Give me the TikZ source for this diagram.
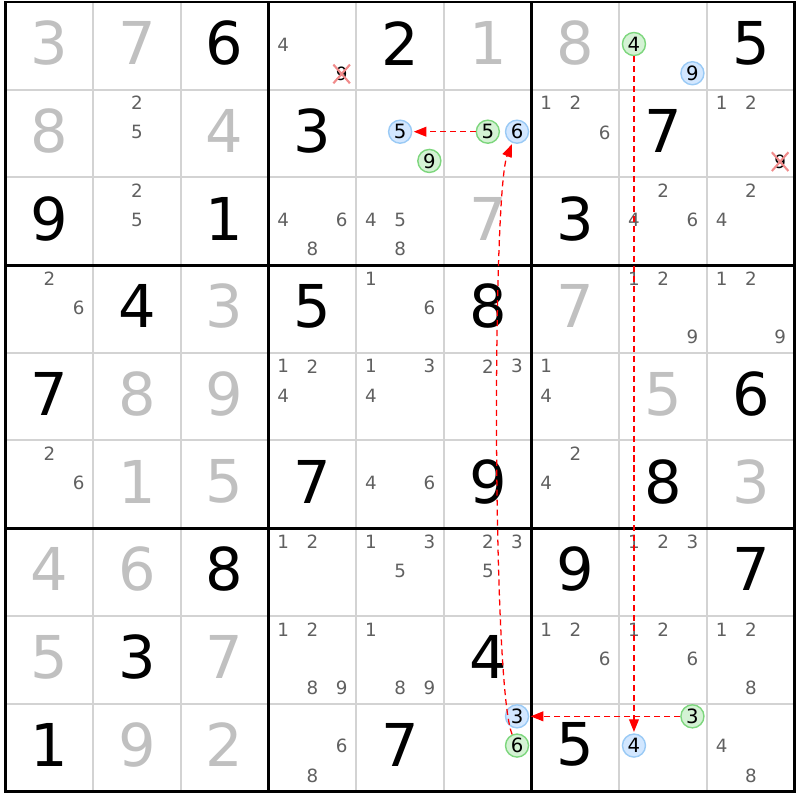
\documentclass[tikz,border=0pt]{standalone}
\usepackage{fontspec}
\setmainfont{DejaVu Sans}
\usetikzlibrary{arrows.meta,shapes.misc}
\definecolor{solvedgray}{HTML}{C0C0C0}
\definecolor{candgray}{HTML}{606060}
\definecolor{thingray}{HTML}{D3D3D3}
\definecolor{ongreen}{HTML}{D4F2D4}
\definecolor{ongreenline}{HTML}{7DD67D}
\definecolor{offblue}{HTML}{D2E7FF}
\definecolor{offblueline}{HTML}{9ACAF5}
\definecolor{crossred}{HTML}{F08A8A}
\tikzset{
  given/.style={font=\fontsize{42}{42}\selectfont, inner sep=0pt, yshift=1.8pt},
  solved/.style={given, text=solvedgray},
  cand/.style={font=\fontsize{13}{13}\selectfont, text=candgray, inner sep=0pt, yshift=0.8pt},
  struck/.style={cand, text=black, cross out, draw=crossred, line width=1.5pt, inner sep=1pt},
  onlink/.style={circle, draw=ongreenline, fill=ongreen, line width=1pt, minimum size=16.4pt, inner sep=0pt, font=\fontsize{14}{14}\selectfont, yshift=1.3pt},
  offlink/.style={onlink, draw=offblueline, fill=offblue},
  link/.style={red, line width=0.9pt, dash pattern=on 4.3pt off 2.8pt, -{Triangle[length=9pt,width=7pt]}, shorten >=1pt},
}
\begin{document}
\begin{tikzpicture}[x=0.7308cm, y=-0.7308cm]
    \useasboundingbox (-0.188,-0.068) rectangle (27.18,27.30);
    %% grid
    \foreach \i in {3,6,12,15,21,24} {
      \draw[thingray, line width=1.4pt] (\i,0) -- (\i,27);
      \draw[thingray, line width=1.4pt] (0,\i) -- (27,\i);
    }
    \draw[line width=2.1pt] (9,0) -- (9,27) (18,0) -- (18,27) (0,9) -- (27,9) (0,18) -- (27,18);
    \draw[line width=2.1pt] (0,0) rectangle (27,27);
    %% row 1
    \node[solved] (r0c0) at (1.5,1.5) {3}; \node[solved] (r0c1) at (4.5,1.5) {7}; \node[given] (r0c2) at (7.5,1.5) {6};
    \node[cand] (r0c3n4) at (9.5,1.5) {4}; \node[struck] (r0c3n9) at (11.5,2.5) {9};
    \node[given] (r0c4) at (13.5,1.5) {2}; \node[solved] (r0c5) at (16.5,1.5) {1};
    \node[solved] (r0c6) at (19.5,1.5) {8};
    \node[onlink] (r0c7n4) at (21.5,1.5) {4}; \node[offlink] (r0c7n9) at (23.5,2.5) {9};
    \node[given] (r0c8) at (25.5,1.5) {5};
    %% row 2
    \node[solved] (r1c0) at (1.5,4.5) {8};
    \node[cand] (r1c1n2) at (4.5,3.5) {2}; \node[cand] (r1c1n5) at (4.5,4.5) {5};
    \node[solved] (r1c2) at (7.5,4.5) {4}; \node[given] (r1c3) at (10.5,4.5) {3};
    \node[offlink] (r1c4n5) at (13.5,4.5) {5}; \node[onlink] (r1c4n9) at (14.5,5.5) {9};
    \node[onlink] (r1c5n5) at (16.5,4.5) {5}; \node[offlink] (r1c5n6) at (17.5,4.5) {6};
    \node[cand] (r1c6n1) at (18.5,3.5) {1}; \node[cand] (r1c6n2) at (19.5,3.5) {2}; \node[cand] (r1c6n6) at (20.5,4.5) {6};
    \node[given] (r1c7) at (22.5,4.5) {7};
    \node[cand] (r1c8n1) at (24.5,3.5) {1}; \node[cand] (r1c8n2) at (25.5,3.5) {2}; \node[struck] (r1c8n9) at (26.5,5.5) {9};
    %% row 3
    \node[given] (r2c0) at (1.5,7.5) {9};
    \node[cand] (r2c1n2) at (4.5,6.5) {2}; \node[cand] (r2c1n5) at (4.5,7.5) {5};
    \node[given] (r2c2) at (7.5,7.5) {1};
    \node[cand] (r2c3n4) at (9.5,7.5) {4}; \node[cand] (r2c3n6) at (11.5,7.5) {6}; \node[cand] (r2c3n8) at (10.5,8.5) {8};
    \node[cand] (r2c4n4) at (12.5,7.5) {4}; \node[cand] (r2c4n5) at (13.5,7.5) {5}; \node[cand] (r2c4n8) at (13.5,8.5) {8};
    \node[solved] (r2c5) at (16.5,7.5) {7}; \node[given] (r2c6) at (19.5,7.5) {3};
    \node[cand] (r2c7n2) at (22.5,6.5) {2}; \node[cand] (r2c7n4) at (21.5,7.5) {4}; \node[cand] (r2c7n6) at (23.5,7.5) {6};
    \node[cand] (r2c8n2) at (25.5,6.5) {2}; \node[cand] (r2c8n4) at (24.5,7.5) {4};
    %% row 4
    \node[cand] (r3c0n2) at (1.5,9.5) {2}; \node[cand] (r3c0n6) at (2.5,10.5) {6};
    \node[given] (r3c1) at (4.5,10.5) {4}; \node[solved] (r3c2) at (7.5,10.5) {3}; \node[given] (r3c3) at (10.5,10.5) {5};
    \node[cand] (r3c4n1) at (12.5,9.5) {1}; \node[cand] (r3c4n6) at (14.5,10.5) {6};
    \node[given] (r3c5) at (16.5,10.5) {8}; \node[solved] (r3c6) at (19.5,10.5) {7};
    \node[cand] (r3c7n1) at (21.5,9.5) {1}; \node[cand] (r3c7n2) at (22.5,9.5) {2}; \node[cand] (r3c7n9) at (23.5,11.5) {9};
    \node[cand] (r3c8n1) at (24.5,9.5) {1}; \node[cand] (r3c8n2) at (25.5,9.5) {2}; \node[cand] (r3c8n9) at (26.5,11.5) {9};
    %% row 5
    \node[given] (r4c0) at (1.5,13.5) {7}; \node[solved] (r4c1) at (4.5,13.5) {8}; \node[solved] (r4c2) at (7.5,13.5) {9};
    \node[cand] (r4c3n1) at (9.5,12.5) {1}; \node[cand] (r4c3n2) at (10.5,12.5) {2}; \node[cand] (r4c3n4) at (9.5,13.5) {4};
    \node[cand] (r4c4n1) at (12.5,12.5) {1}; \node[cand] (r4c4n3) at (14.5,12.5) {3}; \node[cand] (r4c4n4) at (12.5,13.5) {4};
    \node[cand] (r4c5n2) at (16.5,12.5) {2}; \node[cand] (r4c5n3) at (17.5,12.5) {3};
    \node[cand] (r4c6n1) at (18.5,12.5) {1}; \node[cand] (r4c6n4) at (18.5,13.5) {4};
    \node[solved] (r4c7) at (22.5,13.5) {5}; \node[given] (r4c8) at (25.5,13.5) {6};
    %% row 6
    \node[cand] (r5c0n2) at (1.5,15.5) {2}; \node[cand] (r5c0n6) at (2.5,16.5) {6};
    \node[solved] (r5c1) at (4.5,16.5) {1}; \node[solved] (r5c2) at (7.5,16.5) {5}; \node[given] (r5c3) at (10.5,16.5) {7};
    \node[cand] (r5c4n4) at (12.5,16.5) {4}; \node[cand] (r5c4n6) at (14.5,16.5) {6};
    \node[given] (r5c5) at (16.5,16.5) {9};
    \node[cand] (r5c6n2) at (19.5,15.5) {2}; \node[cand] (r5c6n4) at (18.5,16.5) {4};
    \node[given] (r5c7) at (22.5,16.5) {8}; \node[solved] (r5c8) at (25.5,16.5) {3};
    %% row 7
    \node[solved] (r6c0) at (1.5,19.5) {4}; \node[solved] (r6c1) at (4.5,19.5) {6}; \node[given] (r6c2) at (7.5,19.5) {8};
    \node[cand] (r6c3n1) at (9.5,18.5) {1}; \node[cand] (r6c3n2) at (10.5,18.5) {2};
    \node[cand] (r6c4n1) at (12.5,18.5) {1}; \node[cand] (r6c4n3) at (14.5,18.5) {3}; \node[cand] (r6c4n5) at (13.5,19.5) {5};
    \node[cand] (r6c5n2) at (16.5,18.5) {2}; \node[cand] (r6c5n3) at (17.5,18.5) {3}; \node[cand] (r6c5n5) at (16.5,19.5) {5};
    \node[given] (r6c6) at (19.5,19.5) {9};
    \node[cand] (r6c7n1) at (21.5,18.5) {1}; \node[cand] (r6c7n2) at (22.5,18.5) {2}; \node[cand] (r6c7n3) at (23.5,18.5) {3};
    \node[given] (r6c8) at (25.5,19.5) {7};
    %% row 8
    \node[solved] (r7c0) at (1.5,22.5) {5}; \node[given] (r7c1) at (4.5,22.5) {3}; \node[solved] (r7c2) at (7.5,22.5) {7};
    \node[cand] (r7c3n1) at (9.5,21.5) {1}; \node[cand] (r7c3n2) at (10.5,21.5) {2}; \node[cand] (r7c3n8) at (10.5,23.5) {8}; \node[cand] (r7c3n9) at (11.5,23.5) {9};
    \node[cand] (r7c4n1) at (12.5,21.5) {1}; \node[cand] (r7c4n8) at (13.5,23.5) {8}; \node[cand] (r7c4n9) at (14.5,23.5) {9};
    \node[given] (r7c5) at (16.5,22.5) {4};
    \node[cand] (r7c6n1) at (18.5,21.5) {1}; \node[cand] (r7c6n2) at (19.5,21.5) {2}; \node[cand] (r7c6n6) at (20.5,22.5) {6};
    \node[cand] (r7c7n1) at (21.5,21.5) {1}; \node[cand] (r7c7n2) at (22.5,21.5) {2}; \node[cand] (r7c7n6) at (23.5,22.5) {6};
    \node[cand] (r7c8n1) at (24.5,21.5) {1}; \node[cand] (r7c8n2) at (25.5,21.5) {2}; \node[cand] (r7c8n8) at (25.5,23.5) {8};
    %% row 9
    \node[given] (r8c0) at (1.5,25.5) {1}; \node[solved] (r8c1) at (4.5,25.5) {9}; \node[solved] (r8c2) at (7.5,25.5) {2};
    \node[cand] (r8c3n6) at (11.5,25.5) {6}; \node[cand] (r8c3n8) at (10.5,26.5) {8};
    \node[given] (r8c4) at (13.5,25.5) {7};
    \node[offlink] (r8c5n3) at (17.5,24.5) {3}; \node[onlink] (r8c5n6) at (17.5,25.5) {6};
    \node[given] (r8c6) at (19.5,25.5) {5};
    \node[onlink] (r8c7n3) at (23.5,24.5) {3}; \node[offlink] (r8c7n4) at (21.5,25.5) {4};
    \node[cand] (r8c8n4) at (24.5,25.5) {4}; \node[cand] (r8c8n8) at (25.5,26.5) {8};
    %% chain
    \draw[link] (r1c5n5) -- (r1c4n5);
    \draw[link] (r8c5n6) .. controls (16.65,23.5) and (16.65,6.5) .. (r1c5n6);
    \draw[link] (r0c7n4) -- (r8c7n4);
    \draw[link] (r8c7n3) -- (r8c5n3);
\end{tikzpicture}
\end{document}
